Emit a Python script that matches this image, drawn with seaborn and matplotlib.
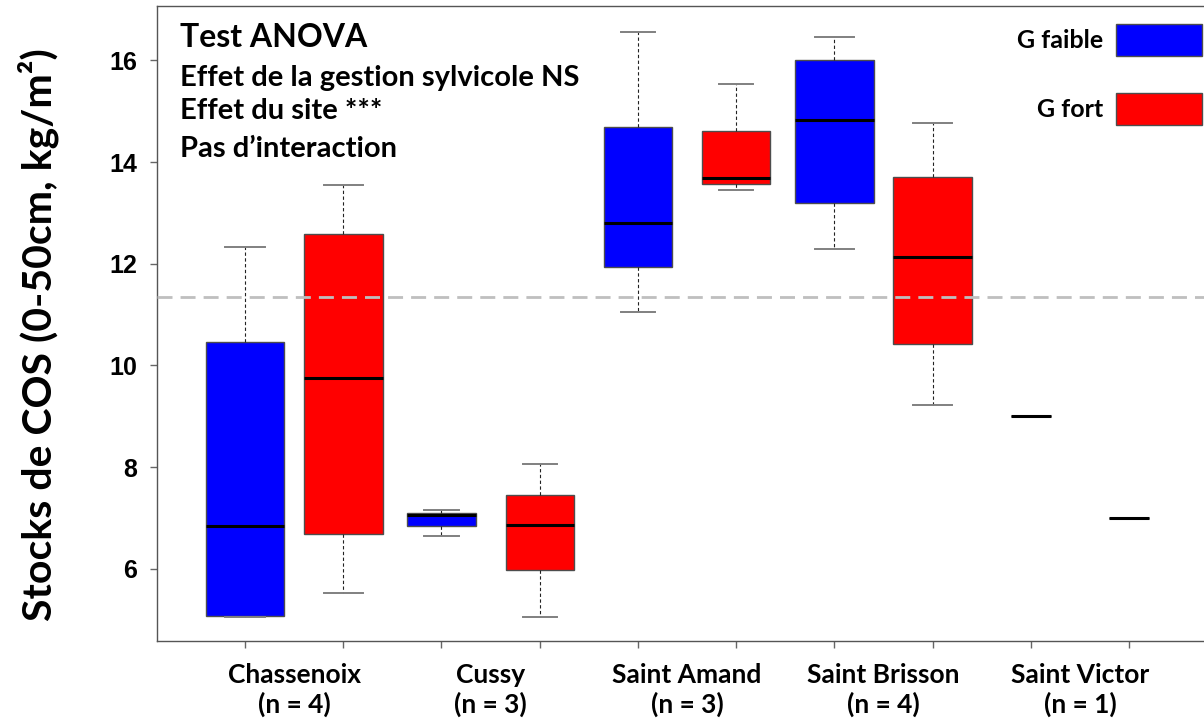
import numpy as np
import pandas as pd
import matplotlib
matplotlib.use("Agg")
import matplotlib.pyplot as plt
from matplotlib.patches import Patch
import seaborn as sns

# ---------------- data ----------------
sites = ["Chassenoix", "Cussy", "Saint Amand", "Saint Brisson", "Saint Victor"]
n_obs = [4, 3, 3, 4, 1]
groups = ["G faible", "G fort"]
group_colors = ["#0000FF", "#FF0000"]

# five-number summaries (whisker low, Q1, median, Q3, whisker high), kg/m2
faible_low = [5.05, 6.65, 11.06, 12.30, 9.00]
faible_q1 = [5.08, 6.85, 11.94, 13.20, 9.00]
faible_med = [6.85, 7.06, 12.81, 14.82, 9.00]
faible_q3 = [10.46, 7.10, 14.69, 16.01, 9.00]
faible_high = [12.33, 7.16, 16.55, 16.47, 9.00]

fort_low = [5.52, 5.06, 13.45, 9.22, 7.00]
fort_q1 = [6.69, 5.97, 13.57, 10.43, 7.00]
fort_med = [9.76, 6.87, 13.69, 12.14, 7.00]
fort_q3 = [12.59, 7.46, 14.62, 13.70, 7.00]
fort_high = [13.55, 8.06, 15.54, 14.76, 7.00]

overall_mean = 11.35
annotation_lines = ["Test ANOVA", "Effet de la gestion sylvicole NS",
                    "Effet du site ***", "Pas d\u2019interaction"]
y_ticks = [6, 8, 10, 12, 14, 16]
y_label = "Stocks de COS (0-50cm, kg/m\u00b2)"

# ---------------- long table ----------------
summaries = {
    "G faible": [faible_low, faible_q1, faible_med, faible_q3, faible_high],
    "G fort": [fort_low, fort_q1, fort_med, fort_q3, fort_high],
}
rows = []
for i, site in enumerate(sites):
    for gi, g in enumerate(groups):
        for stat in summaries[g]:
            rows.append({"site": site, "group": g, "n": n_obs[i],
                         "pos": 2 * i + gi + 1, "value": stat[i]})
df = pd.DataFrame(rows)

# ---------------- figure ----------------
TEXT_FONT = ["Lato", "DejaVu Sans"]
fig = plt.figure(figsize=(12.04, 7.24), dpi=100)
ax = fig.add_axes([0.1301, 0.1146, 0.8811, 0.8771])

nmax = max(n_obs)
for pos, sub in df.groupby("pos"):
    g = sub["group"].iloc[0]
    n = sub["n"].iloc[0]
    sns.boxplot(
        data=sub, x="pos", y="value", orient="x", native_scale=True,
        width=0.8 * np.sqrt(n / nmax), color=group_colors[groups.index(g)],
        saturation=1, whis=(0, 100), ax=ax,
        boxprops=dict(edgecolor="#4d4d4d", linewidth=1.0),
        whiskerprops=dict(color="#222222", linestyle=(0, (3, 2.2)), linewidth=0.8),
        capprops=dict(color="#808080", linewidth=1.4),
        medianprops=dict(color="black", linewidth=2.2),
    )

ax.axhline(overall_mean, color="#BFBFBF", linestyle=(0, (5.4, 2.9)),
           linewidth=2, zorder=10)

ax.set_xlim(0.1, 10.9)
ax.set_ylim(4.58, 17.07)

# ticks
ax.set_xticks(np.arange(1, 11))
ax.set_xticklabels([])
ax.set_xticks(np.arange(1.5, 10.6, 2), minor=True)
ax.set_xticklabels([f"{s}\n(n = {n})" for s, n in zip(sites, n_obs)], minor=True,
                   family=TEXT_FONT, fontweight="bold", fontsize=19,
                   linespacing=1.2)
ax.tick_params(axis="x", which="major", direction="out", length=5,
               color="#666666", width=1)
ax.tick_params(axis="x", which="minor", length=0, pad=16)
ax.set_yticks(y_ticks)
ax.set_yticklabels([str(t) for t in y_ticks], family="Liberation Sans",
                   fontweight="bold", fontsize=18)
ax.tick_params(axis="y", direction="out", length=5, color="#666666",
               width=1, pad=9)

for sp in ax.spines.values():
    sp.set_color("#555555")
    sp.set_linewidth(1)

ax.set_xlabel("")
ax.set_ylabel(y_label, family=TEXT_FONT, fontweight="bold", fontsize=29.5)
ax.yaxis.set_label_coords(-0.092, 0.482)

# annotation block
baselines = [47, 86, 119, 157]
sizes = [23, 21, 21, 21]
for txt, b, s in zip(annotation_lines, baselines, sizes):
    fig.text(180 / 1204, 1 - b / 724, txt, family=TEXT_FONT,
             fontweight="bold", fontsize=s, va="baseline", ha="left")

# legend
handles = [Patch(facecolor=c, edgecolor="#4d4d4d", linewidth=1)
           for c in group_colors]
leg = ax.legend(handles, groups, loc="upper right",
                bbox_to_anchor=(1202 / 1204, 1 - 24 / 724),
                bbox_transform=fig.transFigure, frameon=False,
                markerfirst=False, borderpad=0, borderaxespad=0,
                handlelength=3.44, handleheight=1.58, labelspacing=1.5,
                handletextpad=0.52,
                prop=dict(family=TEXT_FONT, weight="bold", size=18))

fig.savefig("out.png", dpi=100)
